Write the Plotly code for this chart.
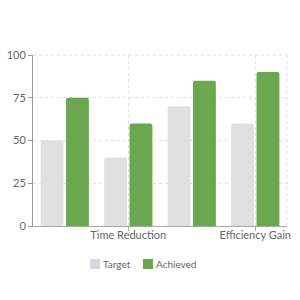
import plotly.graph_objects as go

categories = ["Cost Savings", "Time Reduction", "Quality Improvement", "Efficiency Gain"]
target = [50, 40, 70, 60]
achieved = [75, 60, 85, 90]
shown_labels = ["Time Reduction", "Efficiency Gain"]
y_ticks = [0, 25, 50, 75, 100]
series_names = ["Target", "Achieved"]
series_colors = ["#e0e0e0", "#6aa84f"]
legend_colors = ["#d5d8de", "#6aa84f"]

fnt = "Lato, Open Sans, sans-serif"
font = dict(family=fnt, size=11, color="#666666")

fig = go.Figure()
for name, vals, col in zip(series_names, [target, achieved], series_colors):
    fig.add_trace(go.Bar(name=name, x=categories, y=vals, marker=dict(color=col, line=dict(width=0))))

fig.update_layout(
    width=300, height=300,
    margin=dict(l=33, r=13, t=55, b=74),
    paper_bgcolor="white", plot_bgcolor="white",
    font=font,
    barmode="group", bargap=0.2, bargroupgap=0.1, barcornerradius=2,
    showlegend=False,
    xaxis=dict(
        tickmode="array", tickvals=shown_labels, ticktext=shown_labels,
        showgrid=True, gridcolor="#dddddd", griddash="dot", gridwidth=1,
        showline=True, linecolor="#aaaaaa", linewidth=1,
        ticks="outside", ticklen=4, tickcolor="#aaaaaa",
        tickfont=dict(family=fnt, size=11, color="#666666"),
        categoryorder="array", categoryarray=categories,
        automargin=False, ticklabelstandoff=-5,
    ),
    yaxis=dict(
        range=[0, 100], tickvals=y_ticks,
        showgrid=True, gridcolor="#dddddd", griddash="dot", gridwidth=1,
        showline=True, linecolor="#999999", linewidth=1,
        ticks="outside", ticklen=4, tickcolor="#999999",
        tickfont=dict(family=fnt, size=11, color="#666666"),
        zeroline=False, automargin=False,
    ),
)
fig.add_shape(type="line", xref="paper", yref="paper", x0=0, x1=1, y0=1, y1=1,
              line=dict(color="#dddddd", width=1, dash="dot"))
fig.add_shape(type="line", xref="paper", yref="paper", x0=1, x1=1, y0=0, y1=1,
              line=dict(color="#dddddd", width=1, dash="dot"))

# custom legend (pixel positions converted to paper coords)
pw, ph = 300 - 33 - 13, 300 - 55 - 74
def px(x):
    return (x - 33) / pw
def py(y):
    return (300 - 74 - y) / ph
legend_x = [90, 143]
for name, col, lx in zip(series_names, legend_colors, legend_x):
    fig.add_shape(type="rect", xref="paper", yref="paper",
                  x0=px(lx), x1=px(lx + 10), y0=py(269), y1=py(259),
                  fillcolor=col, line=dict(width=0), layer="above")
    fig.add_annotation(xref="paper", yref="paper", x=px(lx + 13), y=py(264),
                       text=name, showarrow=False, xanchor="left", yanchor="middle",
                       xshift=-2, font=dict(family=fnt, size=10, color="#666666"))

fig.write_html("out.html")
